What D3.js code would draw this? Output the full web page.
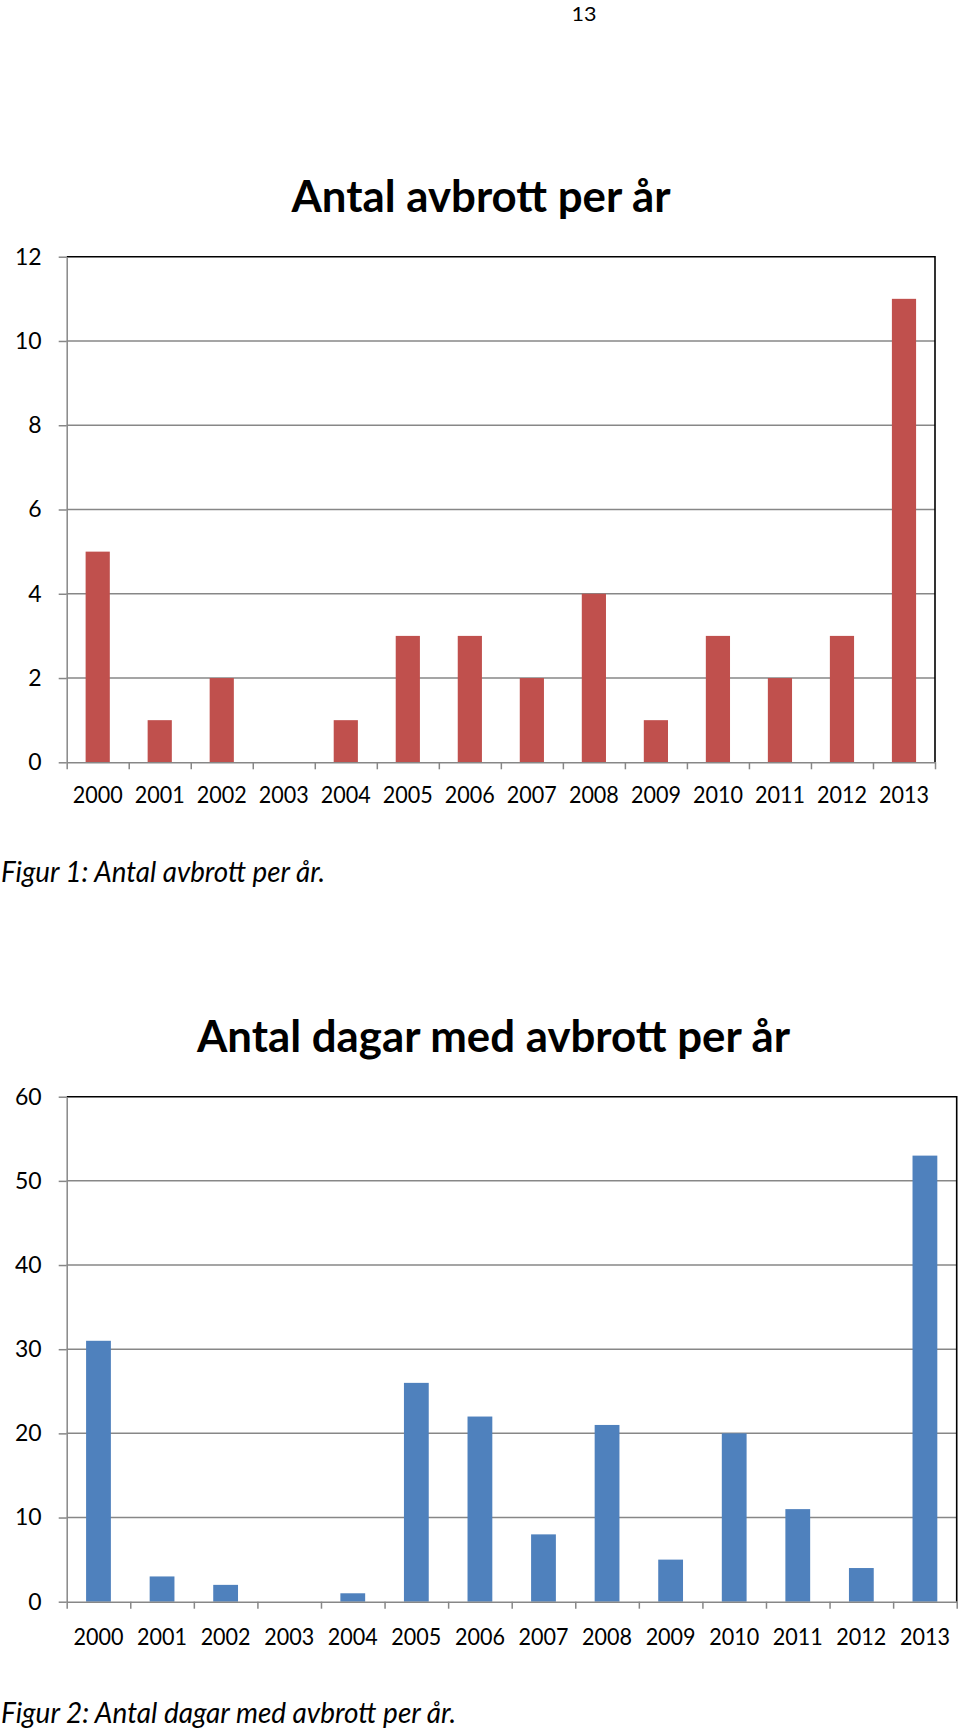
<!DOCTYPE html>
<html>
<head>
<meta charset="utf-8">
<script src="https://d3js.org/d3.v7.min.js"></script>
<style>
  body { margin: 0; background: #fff; }
  svg { display: block; }
  text { font-family: Lato, "Open Sans", sans-serif; fill: #000; }
</style>
</head>
<body>
<script>

var w = 960, h = 1732;

// data
var years = ["2000","2001","2002","2003","2004","2005","2006","2007","2008","2009","2010","2011","2012","2013"];
var avbrott = [5, 1, 2, 0, 1, 3, 3, 2, 4, 1, 3, 2, 3, 11];
var dagar = [31, 3, 2, 0, 1, 26, 22, 8, 21, 5, 20, 11, 4, 53];
var ticks1 = [0, 2, 4, 6, 8, 10, 12];
var ticks2 = [0, 10, 20, 30, 40, 50, 60];

var svg = d3.select("body").append("svg").attr("width", w).attr("height", h);

// page number
svg.append("text").attr("x", 584).attr("y", 21)
  .attr("text-anchor", "middle").attr("font-size", "19px")
  .attr("textLength", 25).attr("lengthAdjust", "spacingAndGlyphs").text("13");

function drawChart(opt){
  var g = svg.append("g");
  var x = d3.scaleBand().domain(years)
    .range([opt.left, opt.right])
    .paddingInner(0.61).paddingOuter(0.305);
  var y = d3.scaleLinear().domain([0, d3.max(opt.ticks)])
    .range([opt.bottom, opt.top]);

  // title
  g.append("text").attr("x", opt.titleX).attr("y", opt.titleY)
    .attr("text-anchor", "middle").attr("font-weight", "bold")
    .attr("font-size", "43px")
    .attr("textLength", opt.titleLen).attr("lengthAdjust", "spacingAndGlyphs")
    .text(opt.title);

  // grid lines
  g.selectAll(".grid").data(opt.ticks.slice(1, -1)).enter().append("line")
    .attr("x1", opt.left).attr("x2", opt.right)
    .attr("y1", function(d){ return y(d); }).attr("y2", function(d){ return y(d); })
    .attr("stroke", "#878787").attr("stroke-width", 1.5);

  // frame top + right
  g.append("path")
    .attr("d", "M" + opt.left + "," + opt.top + "H" + opt.right + "V" + opt.bottom)
    .attr("fill", "none").attr("stroke", "#000").attr("stroke-width", 1.6);

  // bars
  g.selectAll(".bar").data(opt.values).enter().append("rect")
    .attr("x", function(d, i){ return x(years[i]); })
    .attr("width", x.bandwidth())
    .attr("y", function(d){ return y(d); })
    .attr("height", function(d){ return y(0) - y(d); })
    .attr("fill", opt.color);

  // y axis
  var ya = g.append("g").attr("transform", "translate(" + opt.left + ",0)")
    .call(d3.axisLeft(y).tickValues(opt.ticks).tickSize(8).tickPadding(17).tickSizeOuter(0));
  ya.select(".domain").attr("stroke", "#878787").attr("stroke-width", 1.5);
  ya.selectAll(".tick line").attr("stroke", "#878787").attr("stroke-width", 1.5);
  ya.selectAll("text").attr("font-size", "23px").attr("font-family", "Lato, sans-serif").attr("fill", "#000");

  // x axis: tick marks at category boundaries
  var xb = d3.scaleLinear().domain([0, years.length]).range([opt.left, opt.right]);
  var xt = g.append("g").attr("transform", "translate(0," + opt.bottom + ")")
    .call(d3.axisBottom(xb).ticks(years.length).tickSize(7).tickSizeOuter(0).tickFormat(""));
  xt.select(".domain").attr("stroke", "#878787").attr("stroke-width", 1.5);
  xt.selectAll(".tick line").attr("stroke", "#878787").attr("stroke-width", 1.5);

  // x labels
  var xl = g.append("g").attr("transform", "translate(0," + opt.bottom + ")")
    .call(d3.axisBottom(x).tickSize(0));
  xl.select(".domain").remove();
  xl.selectAll("text").attr("y", opt.labelGap).attr("dy", 0)
    .attr("font-size", "23px").attr("font-family", "Lato, sans-serif").attr("fill", "#000")
    .attr("textLength", 50).attr("lengthAdjust", "spacingAndGlyphs");

  // caption
  g.append("text").attr("x", 1).attr("y", opt.capY)
    .attr("font-style", "italic").attr("font-size", "28px")
    .attr("textLength", opt.capLen).attr("lengthAdjust", "spacingAndGlyphs")
    .text(opt.caption);
}

drawChart({
  title: "Antal avbrott per år", titleX: 481, titleY: 212, titleLen: 379,
  left: 66.7, right: 935, top: 256.7, bottom: 762.3,
  ticks: ticks1, values: avbrott, color: "#C0504D",
  labelGap: 41, caption: "Figur 1: Antal avbrott per år.", capY: 882, capLen: 324
});

drawChart({
  title: "Antal dagar med avbrott per år", titleX: 493.5, titleY: 1052, titleLen: 593,
  left: 66.7, right: 956.7, top: 1096.7, bottom: 1601.7,
  ticks: ticks2, values: dagar, color: "#4F81BD",
  labelGap: 43, caption: "Figur 2: Antal dagar med avbrott per år.", capY: 1723, capLen: 455
});

</script>
</body>
</html>
